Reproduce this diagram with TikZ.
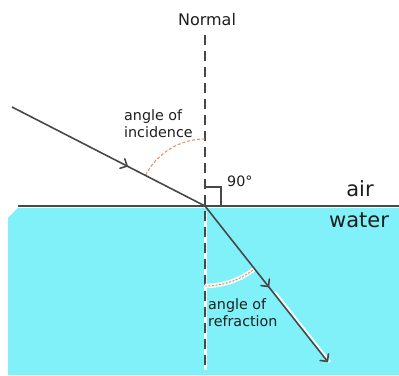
\documentclass[tikz,border=0pt]{standalone}
\usepackage{fontspec}
\setmainfont{DejaVu Sans}
\usetikzlibrary{arrows.meta,decorations.markings,calc}
\definecolor{waterc}{RGB}{128,241,248}
\definecolor{linec}{RGB}{72,72,72}
\definecolor{arcc}{RGB}{235,140,80}
\definecolor{textc}{RGB}{30,30,30}
\tikzset{
  ray/.style={draw=linec, line width=1.6pt},
  rayarrow/.style={postaction={decorate}, decoration={markings,
     mark=at position #1 with {\arrow[linec, line width=1.6pt]{Straight Barb[angle=90:7.5pt, round]}}}},
  normalline/.style={draw=linec, line width=1.8pt, dash pattern=on 10pt off 6pt},
  anglearc/.style={draw=arcc, line width=1pt, dash pattern=on 3pt off 2pt},
  lbl/.style={text=textc, font=\fontsize{14.3}{17}\selectfont, inner sep=0pt},
  medium/.style={text=textc, font=\fontsize{21}{24}\selectfont, inner sep=0pt},
}
\begin{document}
\begin{tikzpicture}[x=1pt,y=1pt]
\useasboundingbox (0,0) rectangle (399,375);
% water
\fill[waterc] (8,0) -- (8,157) -- (18,167) -- (399,167) -- (399,0) -- cycle;
% key points
\coordinate (O) at (205,169);
\coordinate (A) at (12,268);
\coordinate (R) at (328,13);
\coordinate (Ntop) at (205,340);
\coordinate (Nbot) at (205,5);
\coordinate (Sl) at (18,169);
\coordinate (Sr) at (399,169);
% white highlights in water
\draw[white, line width=3pt, opacity=0.85] (205,163) -- (Nbot);
\draw[white, line width=3pt, opacity=0.85] ($(O)!0.55!(R)+(1.8,0)$) -- ($(R)+(1.8,0)$);
% normal
\draw[normalline] (Ntop) -- (Nbot);
% surface
\draw[ray, line width=1.7pt] (Sl) -- (Sr);
% right angle box
\draw[linec, line width=1.5pt] (205,188) -- (221,188) -- (221,169);
% incidence arc
\draw[anglearc] ($(O)+(90:67)$) arc[start angle=90, end angle=152.8, radius=67];
% refraction arc with white glow
\draw[white, line width=4.5pt, opacity=0.85] ($(O)+(270:80)$) arc[start angle=270, end angle=308.3, radius=80];
\draw[anglearc, line width=0.9pt, dash pattern=on 2pt off 1.5pt] ($(O)+(270:80)$) arc[start angle=270, end angle=308.3, radius=80];
% rays
\draw[ray, rayarrow=0.6] (A) -- (O);
\draw[ray, rayarrow=0.52, -{Straight Barb[angle=90:7.5pt, round]}] (O) -- (R);
% labels
\node[lbl, font=\fontsize{16}{19}\selectfont] (normal) at (207,355) {Normal};
\node[lbl, anchor=west, align=left] (inc) at (124,251) {angle of\\incidence};
\node[lbl, anchor=west] (ninety) at (227,194) {90°};
\node[medium] (air) at (360,186) {air};
\node[medium] (water) at (359,155) {water};
\node[lbl, anchor=west, align=left] (refr) at (208,62) {angle of\\refraction};
\end{tikzpicture}
\end{document}
